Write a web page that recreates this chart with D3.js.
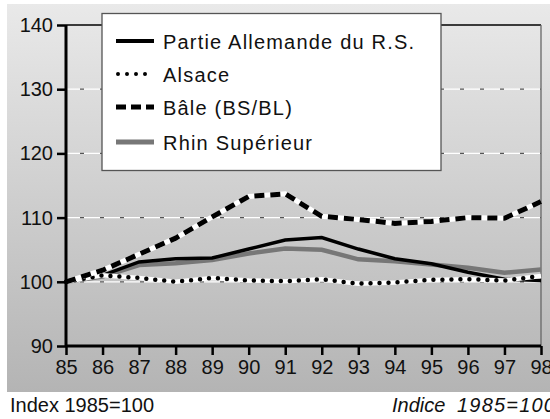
<!DOCTYPE html>
<html>
<head>
<meta charset="utf-8">
<script src="https://cdn.jsdelivr.net/npm/d3@7"></script>
<style>
  body { margin: 0; background: #fff; }
  svg { display: block; font-family: "Liberation Sans", Arial, sans-serif; }
</style>
</head>
<body>
<div id="chart"></div>
<script>
const years = ["85","86","87","88","89","90","91","92","93","94","95","96","97","98"];
const partieAllemande = [100, 101.0, 103.1, 103.6, 103.7, 105.1, 106.5, 106.9, 105.1, 103.6, 102.8, 101.5, 100.4, 100.2];
const alsace = [100, 101.0, 100.6, 100.0, 100.6, 100.2, 100.1, 100.4, 99.7, 99.9, 100.3, 100.4, 100.2, 100.9];
const bale = [100, 101.8, 104.3, 106.8, 110.1, 113.3, 113.7, 110.2, 109.7, 109.1, 109.4, 110.0, 109.9, 112.5];
const rhinSup = [100, 100.8, 102.6, 102.9, 103.4, 104.4, 105.2, 105.0, 103.5, 103.2, 102.7, 102.2, 101.4, 101.9];
const yTicks = [90, 100, 110, 120, 130, 140];
const seriesNames = ["Partie Allemande du R.S.", "Alsace", "B\u00e2le (BS/BL)", "Rhin Sup\u00e9rieur"];

const width = 550, height = 419;
const fontFam = "'Liberation Sans', Arial, sans-serif";
const svg = d3.select("#chart").append("svg")
    .attr("width", width)
    .attr("height", height);

// background panel gradient
const grad = svg.append("defs").append("linearGradient")
    .attr("id", "bg").attr("x1", 0).attr("y1", 0).attr("x2", 0).attr("y2", 1);
grad.append("stop").attr("offset", "0%").attr("stop-color", "#e9e9e9");
grad.append("stop").attr("offset", "100%").attr("stop-color", "#b4b4b4");

svg.append("rect")
    .attr("x", 7).attr("y", 4)
    .attr("width", width - 7).attr("height", 388)
    .attr("fill", "url(#bg)");

const x = d3.scalePoint().domain(years).range([66, 541]);
const y = d3.scaleLinear().domain([90, 140]).range([346, 25]);

// gridlines (white with dark dashes)
const grid = svg.append("g");
yTicks.filter(d => d > 90 && d < 140).forEach(d => {
    grid.append("line")
        .attr("x1", 66).attr("x2", 541)
        .attr("y1", y(d)).attr("y2", y(d))
        .attr("stroke", "#fff").attr("stroke-width", 1.2);
    grid.append("line")
        .attr("x1", 80).attr("x2", 541)
        .attr("y1", y(d)).attr("y2", y(d))
        .attr("stroke", "#555").attr("stroke-width", 1.2)
        .attr("stroke-dasharray", "4,16");
});

// top and right frame
svg.append("line")
    .attr("x1", 66).attr("x2", 541).attr("y1", y(140)).attr("y2", y(140))
    .attr("stroke", "#000").attr("stroke-width", 1.3);
svg.append("line")
    .attr("x1", 541).attr("x2", 541).attr("y1", y(140)).attr("y2", y(90))
    .attr("stroke", "#666").attr("stroke-width", 1.3);

const line = d3.line()
    .x((d, i) => x(years[i]))
    .y(d => y(d));

const lines = svg.append("g").attr("fill", "none");

// Rhin Superieur
lines.append("path").datum(rhinSup)
    .attr("d", line).attr("stroke", "#777").attr("stroke-width", 4.5);
// Partie Allemande
lines.append("path").datum(partieAllemande)
    .attr("d", line).attr("stroke", "#000").attr("stroke-width", 3.5);
// Alsace dotted with white underlay
lines.append("path").datum(alsace)
    .attr("d", line).attr("stroke", "#fff").attr("stroke-width", 4.5);
lines.append("path").datum(alsace)
    .attr("d", line).attr("stroke", "#000").attr("stroke-width", 4.5)
    .attr("stroke-linecap", "round").attr("stroke-dasharray", "0,9");
// Bale dashed with white underlay
lines.append("path").datum(bale)
    .attr("d", line).attr("stroke", "#fff").attr("stroke-width", 5);
lines.append("path").datum(bale)
    .attr("d", line).attr("stroke", "#000").attr("stroke-width", 5)
    .attr("stroke-dasharray", "10,6");

// axes
const yAxis = svg.append("g")
    .attr("transform", "translate(66,0)")
    .call(d3.axisLeft(y).tickValues(yTicks).tickSize(9).tickPadding(4));
const xAxis = svg.append("g")
    .attr("transform", `translate(0,${y(90)})`)
    .call(d3.axisBottom(x).tickSize(9).tickPadding(5));

[yAxis, xAxis].forEach(a => {
    a.attr("font-family", fontFam).attr("font-size", 20);
    a.select(".domain").attr("stroke", "#000").attr("stroke-width", 3);
    a.selectAll(".tick line").attr("stroke", "#000").attr("stroke-width", 2.5);
    a.selectAll("text").attr("fill", "#111");
});
yAxis.select(".domain").attr("d", `M0,${y(90)}V${y(140)}`);
xAxis.select(".domain").attr("d", "M66,0H541");

// legend
const legend = svg.append("g");
legend.append("rect")
    .attr("x", 102).attr("y", 13.5)
    .attr("width", 339).attr("height", 157)
    .attr("fill", "#fff").attr("stroke", "#555").attr("stroke-width", 1.3);

const legendStyles = [
    {stroke: "#000", width: 4, dash: null, cap: "butt"},
    {stroke: "#000", width: 4, dash: "0,9", cap: "round"},
    {stroke: "#000", width: 5, dash: "10,5", cap: "butt"},
    {stroke: "#777", width: 5, dash: null, cap: "butt"}
];
const rowY = [41, 74, 107, 142];

seriesNames.forEach((name, i) => {
    const s = legendStyles[i];
    legend.append("line")
        .attr("x1", i === 1 ? 118 : 116).attr("x2", 154)
        .attr("y1", rowY[i]).attr("y2", rowY[i])
        .attr("stroke", s.stroke).attr("stroke-width", s.width)
        .attr("stroke-dasharray", s.dash)
        .attr("stroke-linecap", s.cap);
    legend.append("text")
        .attr("x", 163).attr("y", rowY[i] + 7.5)
        .attr("font-family", fontFam)
        .attr("font-size", "20px")
        .attr("letter-spacing", "1.2px")
        .attr("fill", "#111")
        .text(name);
});

// footer
svg.append("text")
    .attr("x", 10).attr("y", 412)
    .attr("font-family", fontFam)
    .attr("font-size", "20px").attr("fill", "#111")
    .text("Index 1985=100");
const indice = svg.append("text")
    .attr("y", 412)
    .attr("font-family", fontFam)
    .attr("font-size", "20px").attr("font-style", "italic").attr("fill", "#111");
indice.append("tspan").attr("x", 392).text("Indice");
indice.append("tspan").attr("x", 457).attr("letter-spacing", "1.2px").text("1985=100");
</script>
</body>
</html>
